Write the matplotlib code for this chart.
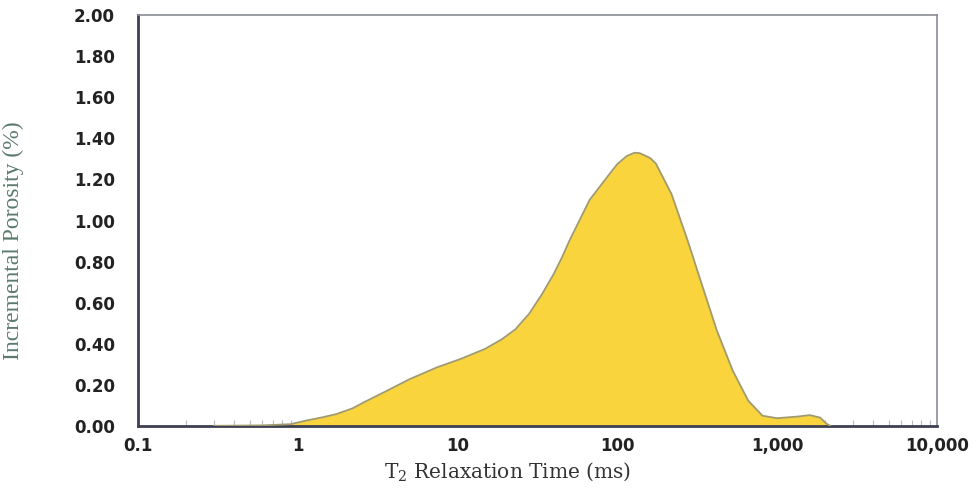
import matplotlib
matplotlib.use("Agg")
import matplotlib.pyplot as plt
from matplotlib.ticker import FixedLocator, NullFormatter

plt.rcParams["mathtext.fontset"] = "dejavuserif"

# T2 relaxation time (ms) and incremental porosity (%)
t2_ms = [0.3, 0.6, 0.9, 1.12, 1.4, 1.74, 2.2, 2.6, 3.6, 5.0, 7.5, 10.4,
         14.8, 18.8, 23, 28, 34, 40, 45, 50, 67, 90, 100, 115, 128, 138,
         160, 174, 218, 276, 332, 420, 528, 660, 810, 1000, 1340, 1600,
         1860, 2040, 2150]
porosity = [0.0, 0.002, 0.008, 0.025, 0.04, 0.057, 0.085, 0.115, 0.17,
            0.227, 0.286, 0.325, 0.374, 0.42, 0.47, 0.545, 0.645, 0.74,
            0.82, 0.90, 1.10, 1.23, 1.275, 1.315, 1.33, 1.328, 1.305,
            1.278, 1.13, 0.90, 0.707, 0.463, 0.268, 0.122, 0.049, 0.037,
            0.045, 0.052, 0.04, 0.01, 0.0]

x_ticks = [0.1, 1, 10, 100, 1000, 10000]
x_tick_labels = ["0.1", "1", "10", "100", "1,000", "10,000"]
y_ticks = [0.0, 0.2, 0.4, 0.6, 0.8, 1.0, 1.2, 1.4, 1.6, 1.8, 2.0]
y_tick_labels = [f"{v:.2f}" for v in y_ticks]

fig = plt.figure(figsize=(9.79, 4.90), dpi=100)
ax = fig.add_axes([0.141, 0.131, 0.816, 0.838])

ax.fill_between(t2_ms, porosity, 0, color="#F9D43C", linewidth=0, zorder=2)
ax.plot(t2_ms, porosity, color="#a09a6e", linewidth=1.3, zorder=3,
        solid_joinstyle="round")

ax.set_xscale("log")
ax.set_xlim(0.1, 10000)
ax.set_ylim(0, 2.0)

ax.xaxis.set_major_locator(FixedLocator(x_ticks))
ax.set_xticklabels(x_tick_labels)
ax.set_yticks(y_ticks)
ax.set_yticklabels(y_tick_labels)
ax.xaxis.set_minor_formatter(NullFormatter())

for lab in ax.get_xticklabels() + ax.get_yticklabels():
    lab.set_fontfamily("DejaVu Sans")
    lab.set_fontweight("bold")
    lab.set_fontsize(12)
    lab.set_color("#222222")

ax.tick_params(axis="y", which="major", length=0, pad=16.5)
ax.tick_params(axis="x", which="major", length=0, pad=8)
ax.tick_params(axis="x", which="minor", direction="in", length=4,
               width=0.8, color="#b8b8c4")

for side in ("left", "bottom"):
    ax.spines[side].set_color("#3d3f52")
    ax.spines[side].set_linewidth(2.0)
for side in ("top", "right"):
    ax.spines[side].set_color("#8a8c96")
    ax.spines[side].set_linewidth(1.2)

ax.set_xlabel(r"T$_2$ Relaxation Time (ms)", family="DejaVu Serif",
              fontsize=14.5, color="#333333")
ax.xaxis.set_label_coords(0.462, -0.085)
ax.set_ylabel("Incremental Porosity (%)", family="Liberation Serif",
              fontsize=17, color="#5b7a6c")
ax.yaxis.set_label_coords(-0.143, 0.45)

fig.savefig("out.png", dpi=100, facecolor="white")
